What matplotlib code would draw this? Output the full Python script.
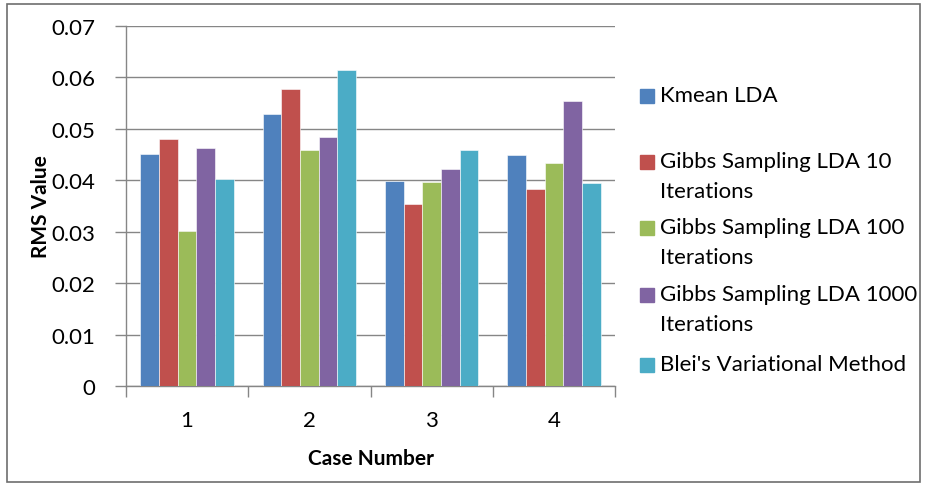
import matplotlib
matplotlib.use("Agg")
import matplotlib.pyplot as plt
from matplotlib.patches import Rectangle
import numpy as np

# ── Dados ──────────────────────────────────────────────────────────────────────
casos = ["1", "2", "3", "4"]
series = [
    "Kmean LDA",
    "Gibbs Sampling LDA 10\nIterations",
    "Gibbs Sampling LDA 100\nIterations",
    "Gibbs Sampling LDA 1000\nIterations",
    "Blei's Variational Method",
]
kmean_lda   = [0.0451, 0.0528, 0.0399, 0.0449]
gibbs_10    = [0.0480, 0.0577, 0.0353, 0.0383]
gibbs_100   = [0.0301, 0.0458, 0.0397, 0.0434]
gibbs_1000  = [0.0462, 0.0484, 0.0422, 0.0555]
blei_vm     = [0.0403, 0.0614, 0.0458, 0.0395]
valores = [kmean_lda, gibbs_10, gibbs_100, gibbs_1000, blei_vm]
yticks = [0, 0.01, 0.02, 0.03, 0.04, 0.05, 0.06, 0.07]
ytick_labels = ["0", "0.01", "0.02", "0.03", "0.04", "0.05", "0.06", "0.07"]

cores = ["#4F81BD", "#C0504D", "#9BBB59", "#8064A2", "#4BACC6"]
FONTE = "Lato"
W, H = 925, 485

fig = plt.figure(figsize=(W / 100, H / 100), dpi=100)
ax = fig.add_axes([126 / W, 1 - 387 / H, 489 / W, 360 / H])

x = np.arange(len(casos))
larg = 0.153
for i, (vals, cor) in enumerate(zip(valores, cores)):
    ax.bar(x + (i - 2) * larg, vals, width=larg, color=cor,
           edgecolor="#ffffff", linewidth=0.4, zorder=3)

ax.set_xlim(-0.5, len(casos) - 0.5)
ax.set_ylim(0, 0.07)
ax.set_yticks(yticks)
ax.set_yticklabels(ytick_labels, fontsize=16, family=FONTE)
ax.yaxis.grid(True, color="#868686", linewidth=1.0, zorder=0)

# ticks entre categorias (estilo Excel)
ax.set_xticks(np.arange(-0.5, len(casos)), minor=False)
ax.set_xticklabels([])
ax.set_xticks(x, minor=True)
ax.set_xticklabels(casos, minor=True, fontsize=16, family=FONTE)
ax.tick_params(axis="x", which="minor", length=0, pad=17)
ax.tick_params(axis="x", which="major", length=8, color="#868686", width=1)
ax.tick_params(axis="y", length=8, color="#868686", width=1, pad=14)

for lado in ["top", "right"]:
    ax.spines[lado].set_visible(False)
for lado in ["left", "bottom"]:
    ax.spines[lado].set_color("#868686")
    ax.spines[lado].set_linewidth(1.0)

ax.set_ylabel("RMS Value", fontsize=15, fontweight="bold", family=FONTE, labelpad=0)
ax.set_xlabel("Case Number", fontsize=15, fontweight="bold", family=FONTE, labelpad=13)

# ── Legenda manual (handle alinhado à primeira linha) ─────────────────────────
leg_y = [97, 163, 229, 296, 366]
for nome, cor, yp in zip(series, cores, leg_y):
    fig.patches.append(Rectangle((640 / W, 1 - (yp + 7) / H), 14 / W, 14 / H,
                                 transform=fig.transFigure, color=cor))
    fig.text(660 / W, 1 - (yp - 11) / H, nome, fontsize=16, family=FONTE,
             va="top", ha="left", linespacing=1.6)

# moldura externa
fig.patches.append(Rectangle((7 / W, 1 - 483 / H), 913 / W, 478 / H,
                             transform=fig.transFigure, fill=False,
                             edgecolor="#6e6e6e", linewidth=1.2))

fig.savefig("out.png", dpi=100)
